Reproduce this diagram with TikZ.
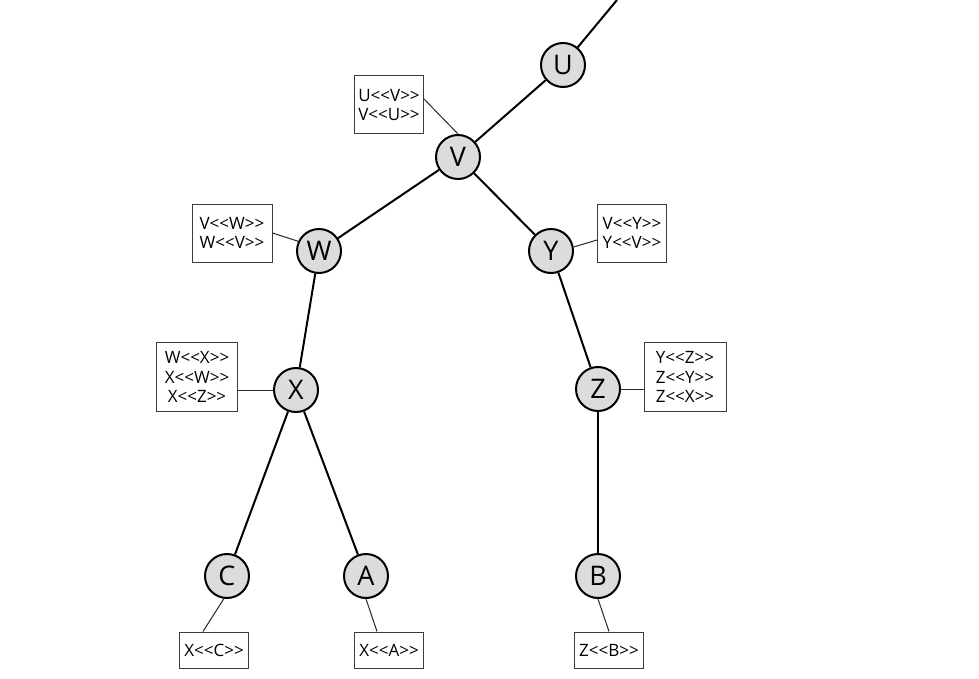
\documentclass[tikz,border=0pt]{standalone}
\usepackage{fontspec}
\setmainfont{Open Sans}
\newcommand\LLs{<{}<}
\newcommand\GGs{>{}>}
\begin{document}
\begin{tikzpicture}[x=1pt,y=-1pt,
  tnode/.style={circle,draw=black,line width=2pt,fill={rgb,255:red,220;green,220;blue,220},minimum size=44pt,inner sep=0pt,font=\fontsize{27}{30}\selectfont},
  lbox/.style={draw={rgb,255:red,60;green,60;blue,60},line width=1pt,fill=white,minimum width=69pt,inner sep=1pt,align=center,font=\fontsize{17}{19.5}\selectfont},
  tedge/.style={line width=2pt},
  bedge/.style={line width=1pt,draw={rgb,255:red,40;green,40;blue,40}}]
\useasboundingbox (0,0) rectangle (979,679);
% tree nodes
\node[tnode] (U) at (563,65) {U};
\node[tnode] (V) at (458,157) {V};
\node[tnode] (W) at (319,251) {W};
\node[tnode] (Y) at (551,251) {Y};
\node[tnode] (X) at (296,390) {X};
\node[tnode] (Z) at (598,389) {Z};
\node[tnode] (C) at (227,576) {C};
\node[tnode] (A) at (366,576) {A};
\node[tnode] (B) at (598,576) {B};
\coordinate (top) at (617,0);
% label boxes
\node[lbox,minimum height=58pt] (bV) at (389,105) {U\LLs V\GGs\\V\LLs U\GGs};
\node[lbox,minimum width=80pt,minimum height=58pt] (bW) at (232,233) {V\LLs W\GGs\\W\LLs V\GGs};
\node[lbox,minimum height=58pt] (bY) at (632,233) {V\LLs Y\GGs\\Y\LLs V\GGs};
\node[lbox,minimum width=81pt,minimum height=69pt] (bX) at (197,377) {W\LLs X\GGs\\X\LLs W\GGs\\X\LLs Z\GGs};
\node[lbox,minimum width=82pt,minimum height=69pt] (bZ) at (685,377) {Y\LLs Z\GGs\\Z\LLs Y\GGs\\Z\LLs X\GGs};
\node[lbox,minimum height=36pt] (bC) at (214,650) {X\LLs C\GGs};
\node[lbox,minimum height=36pt] (bA) at (389,650) {X\LLs A\GGs};
\node[lbox,minimum height=36pt] (bB) at (609,650) {Z\LLs B\GGs};
% tree edges
\draw[tedge] (top) -- (U);
\draw[tedge] (U) -- (V);
\draw[tedge] (V) -- (W);
\draw[tedge] (V) -- (Y);
\draw[tedge] (W) -- (X);
\draw[tedge] (Y) -- (Z);
\draw[tedge] (X) -- (C);
\draw[tedge] (X) -- (A);
\draw[tedge] (Z) -- (B);
% box connectors
\draw[bedge] ([yshift=6pt]bV.east) -- (V.north);
\draw[bedge] (bW.east) -- (W.155);
\draw[bedge] ([yshift=-7pt]bY.west) -- (Y.10);
\draw[bedge] ([yshift=-13pt]bX.east) -- (X.west);
\draw[bedge] (Z.east) -- ([yshift=-12pt]bZ.west);
\draw[bedge] (C.-98) -- ([xshift=-11pt]bC.north);
\draw[bedge] (A.-90) -- ([xshift=-12pt]bA.north);
\draw[bedge] (B.-90) -- (bB.north);
\end{tikzpicture}
\end{document}
